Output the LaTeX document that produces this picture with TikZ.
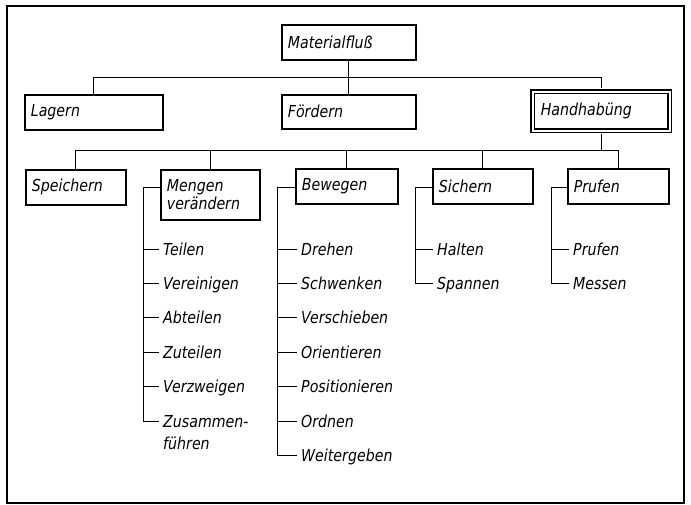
\documentclass[tikz,border=0pt]{standalone}
\usepackage{fontspec}
\setmainfont{DejaVu Sans}[FakeStretch=0.86]
\begin{document}
\begin{tikzpicture}[x=1pt,y=-1pt,
  lettering/.style={font=\itshape\fontsize{16.5}{18.5}\selectfont},
  box/.style={lettering, draw, line width=1.7pt, anchor=north west,
              inner xsep=6pt, inner ysep=0pt, align=left},
  framebox/.style={box, double, line width=1.5pt, double distance=2pt, inner xsep=8pt},
  link/.style={line width=0.9pt},
  item/.style={lettering, anchor=west, inner sep=0pt, text height=14pt, text depth=2pt},
]
\useasboundingbox (0,0) rectangle (691,505);
% outer frame
\draw[line width=1.3pt] (7,6) rectangle (684,503);

% top level
\node[box, text width=122pt, minimum height=35pt] (mat) at (281,24) {Materialfluß};
\node[box, text width=126pt, minimum height=35pt] (lag) at (24,94) {Lagern};
\node[box, text width=122pt, minimum height=34pt] (foe) at (281,94) {Fördern};
\node[framebox, text width=121pt, minimum height=39pt] (hand) at (532,91) {Handhabüng};

% second level
\node[box, text width=88pt, minimum height=35pt] (spe) at (25,169) {Speichern};
\node[box, text width=87pt, minimum height=50pt] (men) at (160,169) {Mengen\\verändern};
\node[box, text width=90pt, minimum height=35pt] (bew) at (295,168) {Bewegen};
\node[box, text width=88pt, minimum height=35pt] (sic) at (432,168) {Sichern};
\node[box, text width=89pt, minimum height=35pt] (pru) at (567,168) {Prufen};

% bus lines
\coordinate (bus1) at (348,77);
\coordinate (bus2) at (348,150);
\draw[link] (mat.south) -- (foe.north);
\draw[link] (lag.north) -- (lag.north |- bus1) -- (hand.north |- bus1) -- ([yshift=2.6pt]hand.north);
\draw[link] ([yshift=-2.6pt]hand.south) -- (hand.south |- bus2);
\draw[link] (spe.north) -- (spe.north |- bus2) -- (pru.north |- bus2) -- (pru.north);
\foreach \n in {men,bew,sic} \draw[link] (\n.north) -- (\n.north |- bus2);

% list: Mengen veraendern
\coordinate (k1) at (143,187);
\foreach [count=\i from 0] \t/\nm in {Teilen/a1, Vereinigen/a2, Abteilen/a3,
    Zuteilen/a4, Verzweigen/a5, Zusammen-/a6}
  \node[item] (\nm) at (163,{249+34.4*\i}) {\t};
\node[item] (a6b) at (163,443) {führen};
\draw[link] (men.west |- k1) -- (k1) -- (k1 |- a6.west);
\foreach \nm in {a1,a2,a3,a4,a5,a6}
  \draw[link] (k1 |- \nm.west) -- ([xshift=-4pt]\nm.west);

% list: Bewegen
\coordinate (k2) at (277,187);
\foreach [count=\i from 0] \t/\nm in {Drehen/b1, Schwenken/b2, Verschieben/b3,
    Orientieren/b4, Positionieren/b5, Ordnen/b6, Weitergeben/b7}
  \node[item] (\nm) at (301,{249+34.4*\i}) {\t};
\draw[link] (bew.west |- k2) -- (k2) -- (k2 |- b7.west);
\foreach \nm in {b1,b2,b3,b4,b5,b6,b7}
  \draw[link] (k2 |- \nm.west) -- ([xshift=-4pt]\nm.west);

% list: Sichern
\coordinate (k3) at (415,187);
\node[item] (c1) at (437,249) {Halten};
\node[item] (c2) at (437,283.4) {Spannen};
\draw[link] (sic.west |- k3) -- (k3) -- (k3 |- c2.west);
\foreach \nm in {c1,c2}
  \draw[link] (k3 |- \nm.west) -- ([xshift=-4pt]\nm.west);

% list: Prufen
\coordinate (k4) at (551,187);
\node[item] (d1) at (573,249) {Prufen};
\node[item] (d2) at (573,283.4) {Messen};
\draw[link] (pru.west |- k4) -- (k4) -- (k4 |- d2.west);
\foreach \nm in {d1,d2}
  \draw[link] (k4 |- \nm.west) -- ([xshift=-4pt]\nm.west);
\end{tikzpicture}
\end{document}
